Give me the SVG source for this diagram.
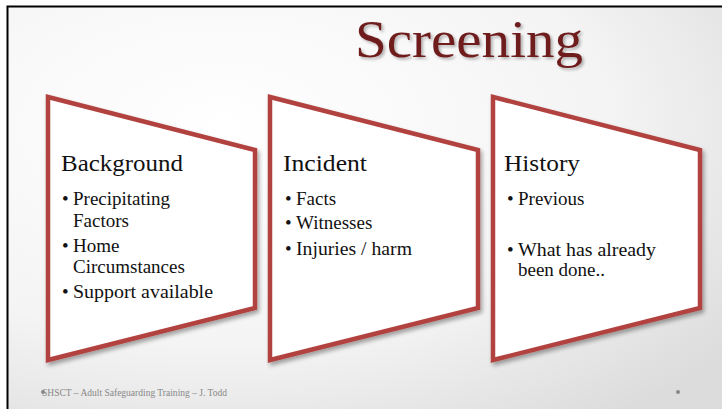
<svg xmlns="http://www.w3.org/2000/svg" width="722" height="409" viewBox="0 0 722 409">
<defs>
<radialGradient id="bg" cx="0.3" cy="0.3" r="0.9">
<stop offset="0" stop-color="#ffffff"/>
<stop offset="0.6" stop-color="#f4f4f4"/>
<stop offset="1" stop-color="#dcdcdc"/>
</radialGradient>
<filter id="sh" x="-10%" y="-10%" width="130%" height="130%">
<feGaussianBlur in="SourceAlpha" stdDeviation="2"/>
<feOffset dx="2" dy="3"/>
<feComponentTransfer><feFuncA type="linear" slope="0.35"/></feComponentTransfer>
<feMerge><feMergeNode/><feMergeNode in="SourceGraphic"/></feMerge>
</filter>
<filter id="tsh" x="-5%" y="-5%" width="110%" height="120%">
<feGaussianBlur in="SourceAlpha" stdDeviation="1.5"/>
<feOffset dx="1.5" dy="2"/>
<feComponentTransfer><feFuncA type="linear" slope="0.3"/></feComponentTransfer>
<feMerge><feMergeNode/><feMergeNode in="SourceGraphic"/></feMerge>
</filter>
</defs>
<style>
.box{fill:#ffffff;stroke:#b1433f;stroke-width:4.5;stroke-linejoin:miter;filter:url(#sh)}
.hd{font-family:"Liberation Serif","Times New Roman",serif;font-size:23px;fill:#111}
.bl{font-family:"Liberation Serif","Times New Roman",serif;font-size:19px;fill:#111}
.dot{font-family:"Liberation Serif","Times New Roman",serif;font-size:19px;fill:#111}
.ft{font-family:"Liberation Serif","Times New Roman",serif;font-size:11px;fill:#888}
</style>
<rect x="0" y="0" width="722" height="409" fill="#ffffff"/>
<rect x="8" y="6" width="714" height="403" fill="url(#bg)"/>
<path d="M7.5 409 V6.5 H722" fill="none" stroke="#000" stroke-width="2"/>
<text x="355" y="57" font-family="'Liberation Serif','Times New Roman',serif" font-size="52" fill="#6e1f1f" filter="url(#tsh)" textLength="228" lengthAdjust="spacingAndGlyphs">Screening</text>

<g id="background">
<polygon class="box" points="48,97 255,150 255,308 48,360"/>
<text class="hd" x="61" y="171" textLength="122" lengthAdjust="spacingAndGlyphs">Background</text>
<text class="dot" x="62" y="205">•</text><text class="bl" x="73" y="205">Precipitating</text>
<text class="bl" x="73" y="227">Factors</text>
<text class="dot" x="62" y="252">•</text><text class="bl" x="73" y="252">Home</text>
<text class="bl" x="73" y="273">Circumstances</text>
<text class="dot" x="62" y="298">•</text><text class="bl" x="73" y="298" textLength="140" lengthAdjust="spacingAndGlyphs">Support available</text>
</g>

<g id="incident">
<polygon class="box" points="270,97 478,150 478,308 270,360"/>
<text class="hd" x="283" y="171" textLength="84" lengthAdjust="spacingAndGlyphs">Incident</text>
<text class="dot" x="285" y="205">•</text><text class="bl" x="296" y="205">Facts</text>
<text class="dot" x="285" y="229">•</text><text class="bl" x="296" y="229">Witnesses</text>
<text class="dot" x="285" y="255">•</text><text class="bl" x="296" y="255" textLength="116" lengthAdjust="spacingAndGlyphs">Injuries / harm</text>
</g>

<g id="history">
<polygon class="box" points="493,97 700,150 700,308 493,360"/>
<text class="hd" x="504" y="171" textLength="76" lengthAdjust="spacingAndGlyphs">History</text>
<text class="dot" x="507" y="205">•</text><text class="bl" x="518" y="205">Previous</text>
<text class="dot" x="507" y="256">•</text><text class="bl" x="518" y="256" textLength="138" lengthAdjust="spacingAndGlyphs">What has already</text>
<text class="bl" x="518" y="276">been done..</text>
</g>

<g id="connectors"></g>

<circle cx="43" cy="392" r="2" fill="#888"/>
<text class="ft" x="42" y="396" textLength="185" lengthAdjust="spacingAndGlyphs">SHSCT – Adult Safeguarding Training – J. Todd</text>
<circle cx="678" cy="392" r="2" fill="#888"/>
</svg>
